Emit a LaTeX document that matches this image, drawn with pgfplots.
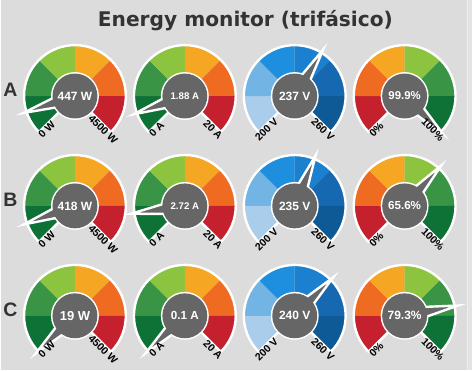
\documentclass[border=0pt]{standalone}
\usepackage{pgfplots}
\pgfplotsset{compat=1.18}
\usepackage{fontspec}
\setmainfont{Liberation Sans}
\newfontfamily\titlefont{DejaVu Sans}
\definecolor{bg}{HTML}{DCDCDC}
\definecolor{bgedge}{HTML}{E3E3E3}
\definecolor{gcirc}{HTML}{666666}
\definecolor{txt}{HTML}{333333}
\definecolor{G1}{HTML}{0E7236}
\definecolor{G2}{HTML}{3A9446}
\definecolor{G3}{HTML}{8CC43F}
\definecolor{G4}{HTML}{F5A623}
\definecolor{G5}{HTML}{EF6B22}
\definecolor{G6}{HTML}{C5202D}
\definecolor{B1}{HTML}{A9CDEA}
\definecolor{B2}{HTML}{72B4E4}
\definecolor{B3}{HTML}{1E8FDF}
\definecolor{B4}{HTML}{1A80CF}
\definecolor{B5}{HTML}{1669B0}
\definecolor{B6}{HTML}{0E5A97}
\colorlet{P1}{G6}\colorlet{P2}{G5}\colorlet{P3}{G4}
\colorlet{P4}{G3}\colorlet{P5}{G2}\colorlet{P6}{G1}

% #1 cx, #2 cy, #3 value, #4 min, #5 max, #6 palette, #7 value text, #8 min label, #9 max label
\newcommand\gauge[9]{%
 \pgfplotsextra{%
  \fill[#61] (axis cs:#1,#2) -- ++(225:51pt) arc[start angle=225,end angle=180,radius=51pt] -- cycle;
  \fill[#62] (axis cs:#1,#2) -- ++(180:51pt) arc[start angle=180,end angle=135,radius=51pt] -- cycle;
  \fill[#63] (axis cs:#1,#2) -- ++(135:51pt) arc[start angle=135,end angle=90,radius=51pt] -- cycle;
  \fill[#64] (axis cs:#1,#2) -- ++(90:51pt) arc[start angle=90,end angle=45,radius=51pt] -- cycle;
  \fill[#65] (axis cs:#1,#2) -- ++(45:51pt) arc[start angle=45,end angle=0,radius=51pt] -- cycle;
  \fill[#66] (axis cs:#1,#2) -- ++(0:51pt) arc[start angle=0,end angle=-45,radius=51pt] -- cycle;
  \draw[white,line width=2.4pt,line join=round] (axis cs:#1,#2) ++(225:51pt) arc[start angle=225,end angle=-45,radius=51pt] -- (axis cs:#1,#2) -- cycle;
  \draw[white,line width=3pt] (axis cs:#1,#2) circle[radius=22.5pt];
 }%
 \pgfmathsetmacro\frac{(#3-#4)/(#5-#4)}%
 \pgfmathsetmacro\ang{225-270*\frac}%
 \pgfmathsetmacro\tx{#1+54.5*cos(\ang)}%
 \pgfmathsetmacro\ty{#2-54.5*sin(\ang)}%
 \pgfmathsetmacro\ax{#1+16*cos(\ang+22)}%
 \pgfmathsetmacro\ay{#2-16*sin(\ang+22)}%
 \pgfmathsetmacro\bx{#1+16*cos(\ang-22)}%
 \pgfmathsetmacro\by{#2-16*sin(\ang-22)}%
 \edef\needle{\noexpand\addplot[draw=white,line width=2.4pt,fill=gcirc] coordinates {(\ax,\ay) (\tx,\ty) (\bx,\by)} -- cycle;}%
 \needle
 \pgfplotsextra{%
  \fill[gcirc] (axis cs:#1,#2) circle[radius=22.5pt];
  \node[text=white,font=\bfseries] at (axis cs:#1,#2) {#7};
  \node[rotate=45,inner sep=0pt,font=\bfseries\fontsize{10.5}{10.5}\selectfont] at ([shift={(230:44pt)}]axis cs:#1,#2) {#8};
  \node[rotate=-45,inner sep=0pt,font=\bfseries\fontsize{10.5}{10.5}\selectfont] at ([shift={(-50:44pt)}]axis cs:#1,#2) {#9};
 }%
}
\newcommand\fs[1]{\fontsize{#1}{#1}\selectfont}

\begin{document}
\begin{tikzpicture}
\begin{axis}[width=472pt,height=370pt,scale only axis,
  xmin=0,xmax=472,ymin=0,ymax=370,y dir=reverse,
  hide axis,clip=false]
\fill[bg] (axis cs:0,0) rectangle (axis cs:472,370);
\fill[bgedge] (axis cs:467.5,0) rectangle (axis cs:472,370);
\draw[white,opacity=0.5,line width=0.8pt] (axis cs:467.5,0) -- (axis cs:467.5,370);
\node[anchor=base,text=txt,font=\titlefont\bfseries\fs{20.2}] at (axis cs:245,26) {Energy monitor (trifásico)};
\node[text=txt,font=\bfseries\fs{19.5}] at (axis cs:9.5,90) {A};
\node[text=txt,font=\bfseries\fs{19.5}] at (axis cs:9.5,200.2) {B};
\node[text=txt,font=\bfseries\fs{19.5}] at (axis cs:9.5,310.3) {C};
% Row A
\gauge{74.2}{95.8}{447}{0}{4500}{G}{\fs{12}447 W}{0 W}{4500 W}
\gauge{184.3}{95.8}{1.88}{0}{20}{G}{\fs{9.7}1.88 A}{0 A}{20 A}
\gauge{294.4}{95.8}{237}{200}{260}{B}{\fs{12}237 V}{200 V}{260 V}
\gauge{404.5}{95.8}{99.9}{0}{100}{P}{\fs{11.4}99.9\%}{0\%}{100\%}
% Row B
\gauge{74.2}{205.9}{418}{0}{4500}{G}{\fs{12}418 W}{0 W}{4500 W}
\gauge{184.3}{205.9}{2.72}{0}{20}{G}{\fs{9.7}2.72 A}{0 A}{20 A}
\gauge{294.4}{205.9}{235}{200}{260}{B}{\fs{12}235 V}{200 V}{260 V}
\gauge{404.5}{205.9}{65.6}{0}{100}{P}{\fs{11.6}65.6\%}{0\%}{100\%}
% Row C
\gauge{74.2}{316}{19}{0}{4500}{G}{\fs{13}19 W}{0 W}{4500 W}
\gauge{184.3}{316}{0.1}{0}{20}{G}{\fs{11.7}0.1 A}{0 A}{20 A}
\gauge{294.4}{316}{240}{200}{260}{B}{\fs{12}240 V}{200 V}{260 V}
\gauge{404.5}{316}{79.3}{0}{100}{P}{\fs{12}79.3\%}{0\%}{100\%}
\end{axis}
\end{tikzpicture}
\end{document}
